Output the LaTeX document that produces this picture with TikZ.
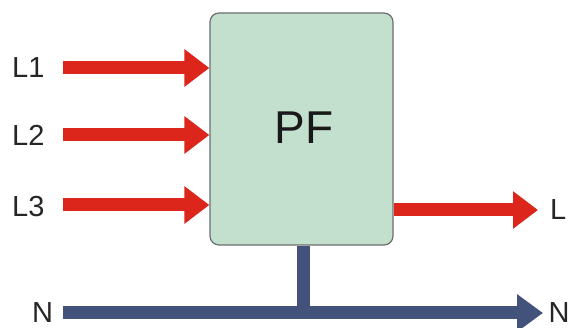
\documentclass[tikz,border=0pt]{standalone}
\usepackage{fontspec}
\setmainfont{Liberation Sans}
\usetikzlibrary{arrows.meta,calc}
\definecolor{boxfill}{HTML}{C3DFCE}
\definecolor{boxline}{HTML}{6A6E6C}
\definecolor{redline}{HTML}{DC261C}
\definecolor{blueline}{HTML}{43527A}
\tikzset{
  lbl/.style={anchor=west,inner sep=0pt,font=\fontsize{29}{30}\selectfont,text=black!85},
  redarrow/.style={draw=redline,line width=13pt,-{Triangle[length=25pt,width=36pt]}},
  bluearrow/.style={draw=blueline,line width=13pt,-{Triangle[length=26pt,width=36pt]}},
  blueline/.style={draw=blueline,line width=13pt},
  pfbox/.style={draw=boxline,line width=1.2pt,fill=boxfill,rounded corners=9pt,inner sep=0pt}
}
\begin{document}
\begin{tikzpicture}[x=1pt,y=-1pt]
\useasboundingbox (0,0) rectangle (571,328);
\node[pfbox,minimum width=183pt,minimum height=232pt] (pf) at (301.5,129) {};
\node[inner sep=0pt,font=\fontsize{46}{48}\selectfont,text=black!90] (pft) at (304,128) {PF};
% labels
\node[lbl] (l1) at (12,68) {L1};
\node[lbl] (l2) at (12,135) {L2};
\node[lbl] (l3) at (12,207) {L3};
\node[lbl] (lo) at (550,210) {L};
\node[lbl] (nl) at (32,313) {N};
\node[lbl] (nr) at (548.5,313) {N};
% coordinates
\coordinate (s1) at (63,68);
\coordinate (s2) at (63,135);
\coordinate (s3) at (63,205);
\coordinate (oe) at (538,210);
\coordinate (ns) at (63,313);
\coordinate (ne) at (543,313);
\coordinate (stem) at (303,313);
% blue
\draw[blueline] (pf.south -| stem) -- (stem);
\draw[bluearrow] (ns) -- (ne);
% red
\draw[redarrow] (s1) -- (s1 -| pf.west);
\draw[redarrow] (s2) -- (s2 -| pf.west);
\draw[redarrow] (s3) -- (s3 -| pf.west);
\draw[redarrow] (oe -| pf.east) -- (oe);
\end{tikzpicture}
\end{document}
